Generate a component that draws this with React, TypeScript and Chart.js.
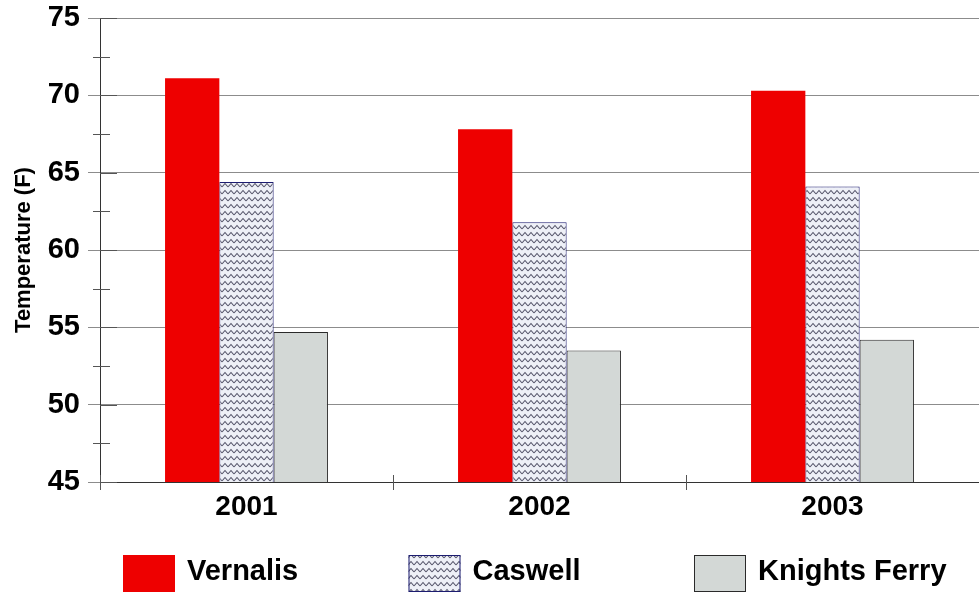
import React, { useEffect, useRef } from "react";
import { Chart, registerables } from "chart.js";

Chart.register(...registerables);

const categories = ["2001", "2002", "2003"];
const seriesNames = ["Vernalis", "Caswell", "Knights Ferry"];
const vernalis = [71.1, 67.8, 70.3];
const caswell = [64.4, 61.8, 64.1];
const knightsFerry = [54.7, 53.5, 54.2];
const yMin = 45;
const yMax = 75;
const yStep = 5;
const yMinorStep = 2.5;

const FONT = "'Liberation Sans', Arial, sans-serif";

function makeZigzag(): CanvasPattern | string {
  const c = document.createElement("canvas");
  c.width = 6;
  c.height = 7;
  const g = c.getContext("2d");
  if (!g) return "#e8eaf2";
  g.fillStyle = "#eef0f7";
  g.fillRect(0, 0, 6, 7);
  g.strokeStyle = "#55556a";
  g.lineWidth = 1.1;
  g.beginPath();
  g.moveTo(0, 5);
  g.lineTo(3, 1.5);
  g.lineTo(6, 5);
  g.stroke();
  const p = g.createPattern(c, "repeat");
  return p || "#e8eaf2";
}

const axisMarks = {
  id: "axisMarks",
  afterDraw(chart: any) {
    const { ctx, chartArea, scales } = chart;
    const y = scales.y;
    const x = scales.x;
    ctx.save();
    ctx.strokeStyle = "#555";
    ctx.lineWidth = 1;
    for (let v = yMin; v <= yMax + 1e-9; v += yMinorStep) {
      const py = Math.round(y.getPixelForValue(v)) + 0.5;
      const major = Math.abs(v / yStep - Math.round(v / yStep)) < 1e-6;
      ctx.beginPath();
      if (major) {
        ctx.moveTo(chartArea.left, py);
        ctx.lineTo(chartArea.left + 17, py);
      } else {
        ctx.moveTo(chartArea.left - 7, py);
        ctx.lineTo(chartArea.left + 10, py);
      }
      ctx.stroke();
    }
    const n = categories.length;
    const bounds: number[] = [chartArea.left];
    for (let i = 0; i < n - 1; i++) {
      bounds.push((x.getPixelForTick(i) + x.getPixelForTick(i + 1)) / 2);
    }
    for (const bx of bounds) {
      const px = Math.round(bx) + 0.5;
      ctx.beginPath();
      ctx.moveTo(px, chartArea.bottom - 7);
      ctx.lineTo(px, chartArea.bottom + 8);
      ctx.stroke();
    }
    ctx.restore();
  },
};

const bottomLegend = {
  id: "bottomLegend",
  afterDraw(chart: any) {
    const { ctx, chartArea } = chart;
    ctx.save();
    ctx.font = `bold 29px ${FONT}`;
    ctx.textBaseline = "middle";
    ctx.textAlign = "left";
    chart.data.datasets.forEach((ds: any, i: number) => {
      const bx = chartArea.left + 23 + i * 285.5;
      const by = 555;
      const bw = 52;
      const bh = 37;
      ctx.fillStyle = ds.backgroundColor;
      ctx.fillRect(bx, by, bw, bh);
      if (ds.borderWidth) {
        ctx.strokeStyle = ds.borderColor;
        ctx.lineWidth = 1;
        ctx.strokeRect(bx + 0.5, by + 0.5, bw - 1, bh - 1);
      }
      ctx.fillStyle = "#000";
      ctx.fillText(ds.label, bx + bw + 12, 572);
    });
    ctx.restore();
  },
};

export default function App() {
  const ref = useRef<HTMLCanvasElement>(null);
  useEffect(() => {
    if (!ref.current) return;
    const zig = makeZigzag();
    const chart = new Chart(ref.current, {
      type: "bar",
      data: {
        labels: categories,
        datasets: [
          {
            label: seriesNames[0],
            data: vernalis,
            backgroundColor: "#ee0000",
            borderWidth: 0,
          },
          {
            label: seriesNames[1],
            data: caswell,
            backgroundColor: zig as any,
            borderColor: "#1c1c70",
            borderWidth: 1,
          },
          {
            label: seriesNames[2],
            data: knightsFerry,
            backgroundColor: "#d3d8d6",
            borderColor: "#2a2a2a",
            borderWidth: 1,
          },
        ],
      },
      options: {
        animation: false,
        responsive: true,
        maintainAspectRatio: false,
        layout: { padding: { top: 18, right: 0, bottom: 60, left: 0 } },
        datasets: {
          bar: { categoryPercentage: 0.556, barPercentage: 1 },
        },
        plugins: {
          legend: { display: false },
          tooltip: { enabled: false },
        },
        scales: {
          x: {
            offset: true,
            grid: { display: true, drawOnChartArea: false, drawTicks: false },
            border: { display: true, color: "#333", width: 1 },
            ticks: {
              color: "#000",
              padding: 8,
              font: { family: FONT, size: 28, weight: "bold" },
            },
            afterFit: (s: any) => {
              s.height = 50;
              s.paddingLeft = 0;
              s.paddingRight = 0;
            },
          },
          y: {
            min: yMin,
            max: yMax,
            ticks: {
              stepSize: yStep,
              color: "#000",
              padding: 8,
              font: { family: FONT, size: 29, weight: "bold" },
            },
            grid: { color: "#8c8c8c", lineWidth: 1, tickLength: 12, tickColor: "#8c8c8c" },
            border: { display: true, color: "#333", width: 1 },
            title: {
              display: true,
              text: "Temperature (F)",
              color: "#000",
              padding: { top: 11, bottom: 0 },
              font: { family: FONT, size: 22, weight: "bold" },
            },
            afterFit: (s: any) => {
              s.width = 100;
              s.paddingTop = 0;
              s.paddingBottom = 0;
            },
          },
        },
      },
      plugins: [axisMarks, bottomLegend],
    });
    return () => chart.destroy();
  }, []);
  return (
    <div style={{ position: "absolute", left: 0, top: 0, width: 979, height: 592, background: "#fff" }}>
      <canvas ref={ref} />
    </div>
  );
}
